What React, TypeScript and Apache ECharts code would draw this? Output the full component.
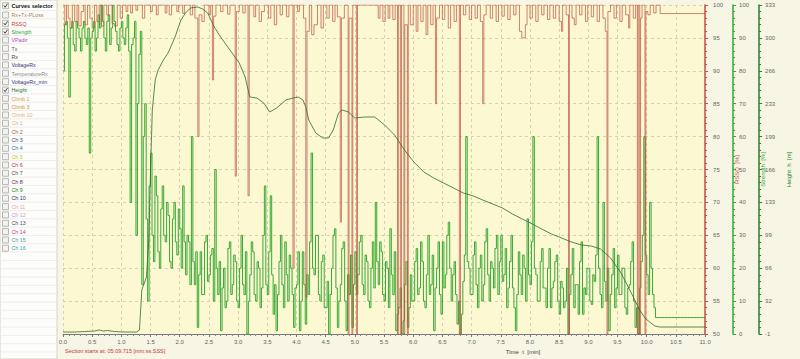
import React, { useEffect, useRef } from "react";
import * as echarts from "echarts";

// ---------- DATA ----------
const xTickLabels = ["0.0","0.5","1.0","1.5","2.0","2.5","3.0","3.5","4.0","4.5","5.0","5.5","6.0","6.5","7.0","7.5","8.0","8.5","9.0","9.5","10.0","10.5","11.0"];

// Strength [%], sampled every 0.025 min
const strengthStep = 0.025;
const strengthValues = [
  80,94,95,90,72,93,95,88,86,95,93,90,86,93,95,90,88,93,55,90,
  92,95,86,90,97,93,100,95,90,86,95,97,88,93,100,95,92,88,86,93,
  95,90,88,93,97,86,40,88,90,95,30,70,85,92,15,60,70,35,10,45,
  55,30,22,48,42,25,20,38,45,30,28,40,36,22,20,35,40,28,24,38,
  32,20,45,28,18,30,28,15,60,22,15,25,2,18,25,12,12,28,30,16,
  18,24,26,10,50,20,12,22,1,14,20,8,10,26,28,12,15,24,22,10,
  8,20,30,15,12,25,0,10,18,28,25,12,10,22,20,8,14,30,45,15,
  12,25,42,18,6,15,1,12,22,30,15,8,28,18,10,24,20,12,2,14,
  15,25,1,10,25,15,3,18,12,28,55,20,18,30,30,12,10,22,24,8,
  8,16,0,12,20,30,32,14,2,10,15,26,28,10,1,18,12,24,2,15,
  25,12,18,28,30,15,12,24,22,10,8,20,28,14,40,22,15,28,25,12,
  10,22,20,8,32,18,12,25,1,6,8,14,0,4,15,22,2,8,18,10,
  10,22,26,12,14,28,22,10,8,18,30,12,15,24,1,14,20,28,12,6,
  28,14,18,30,34,20,10,18,22,12,3,10,0,6,16,24,60,22,20,12,
  12,24,28,15,8,20,24,10,15,28,32,18,10,22,20,14,26,30,12,22,
  30,16,18,26,8,14,22,30,14,8,1,12,25,18,12,24,20,10,35,18,
  15,28,60,20,18,10,10,22,26,14,14,8,20,26,8,14,16,22,24,10,
  6,16,14,8,10,20,0,12,18,26,8,15,15,6,22,28,6,14,12,20,
  20,10,9,18,16,24,60,20,12,8,40,16,10,20,1,12,18,26,8,14,
  24,12,12,20,20,8,6,14,15,22,28,10,2,8,0,14,22,30,60,24,
  18,12,40,20,12,8,5,5,5,5,5,5,5,5,5,5,5,5,5,5,
  5,5,5,5,5,5,5,5,5,5,5,5,5,5,5,5,5,5,5,5,
  5
];

// RSSQ [%] change points: [time min, value]
const rssqSteps: [number, number][] = [
  [0.00,100],[0.03,97],[0.06,100],[0.09,98],[0.12,96.5],[0.16,100],[0.20,97.5],[0.24,100],[0.27,96.8],[0.31,99],
  [0.35,100],[0.38,97],[0.42,100],[0.46,98],[0.50,96.5],[0.54,100],[0.58,97.5],[0.62,100],[0.66,96.8],[0.70,100],
  [0.75,98.5],[0.78,100],[0.84,97.2],[0.88,96.8],[0.93,100],[0.98,98],[1.02,100],[1.08,99],[1.11,100],[1.16,98.8],
  [1.19,100],[1.25,99.2],[1.28,100],[1.36,98],[1.40,100],[1.50,99],[1.53,100],[1.60,98.5],[1.63,100],[1.75,98.8],
  [1.78,100],[1.82,98.5],[1.86,100],[1.95,99],[1.98,100],[2.05,98.7],[2.08,100],[2.18,98.5],[2.22,100],
  [2.26,98],[2.31,80],[2.33,98.5],[2.38,97.5],[2.42,100],[2.50,98.5],[2.53,100],[2.56,88.6],[2.58,98.3],[2.62,100],
  [2.70,99],[2.74,100],[2.82,98.6],[2.86,100],[2.95,74],[2.97,99],[3.02,100],[3.08,98.8],[3.12,100],[3.17,71],
  [3.19,100],[3.27,98.2],[3.30,100],[3.36,97.5],[3.40,99],[3.45,100],[3.52,98],[3.56,100],[3.62,97],[3.66,100],
  [3.72,98.5],[3.76,100],[3.83,98.2],[3.87,100],[3.94,60],[3.96,100],[4.02,99],[4.05,100],[4.12,98],[4.16,55.6],
  [4.18,96],[4.22,100],[4.26,95.5],[4.30,97],[4.36,100],[4.42,96.5],[4.46,100],[4.52,98],[4.56,100],[4.62,97.5],
  [4.66,100],[4.70,98.2],[4.75,67],[4.77,98],[4.82,100],[4.885,50],[4.90,98],[4.95,50],[4.965,100],[5.03,50],
  [5.045,100],[5.40,98],[5.43,100],[5.48,97.5],[5.52,100],[5.57,98],[5.60,100],[5.65,97.8],[5.69,100],[5.73,50],
  [5.745,100],[5.78,50],[5.80,100],[5.84,50],[5.855,97],[5.90,50],[5.915,100],[5.95,97],[6.00,100],[6.05,96],
  [6.08,100],[6.13,97.5],[6.17,100],[6.22,95.5],[6.25,100],[6.30,97],[6.34,100],[6.38,85],[6.40,98],[6.45,100],
  [6.50,97.8],[6.54,100],[6.60,96.5],[6.64,100],[6.70,97.5],[6.74,100],[6.79,50],[6.81,100],[6.86,98.5],[6.90,100],
  [6.96,97.8],[7.00,100],[7.06,98],[7.10,100],[7.15,97.5],[7.19,85],[7.21,98.5],[7.25,100],[7.32,98],[7.36,100],
  [7.42,97.5],[7.46,100],[7.52,98.3],[7.56,100],[7.62,97.8],[7.66,100],[7.72,98.5],[7.76,100],[7.82,96],[7.86,95],
  [7.92,97],[7.95,100],[8.00,98],[8.04,100],[8.10,97.5],[8.14,100],[8.20,98.5],[8.24,100],[8.30,97.8],[8.34,100],
  [8.40,98],[8.44,100],[8.50,97.5],[8.54,96],[8.56,100],[8.62,98.5],[8.66,50],[8.675,100],[8.72,98],[8.76,97],
  [8.79,100],[8.85,98.5],[8.89,100],[8.95,97.5],[8.99,100],[9.05,98.2],[9.09,100],[9.15,97.5],[9.19,100],[9.25,98],
  [9.29,96],[9.32,50],[9.335,99],[9.38,100],[9.44,98],[9.48,100],[9.54,97.5],[9.58,100],[9.64,98.5],[9.69,96.5],
  [9.71,100],[9.77,98],[9.81,100],[9.84,50],[9.855,100],[9.88,50],[9.895,98],[9.92,100],[9.97,50],[9.985,99],
  [10.02,98.5],[10.06,100],[10.12,98.8],[10.16,100],[10.23,98.7],[11.0,98.7]
];

// Height [m]: [time min, height]
const heightPoints: [number, number][] = [
  [0,1.0],[0.20,1.0],[0.37,1.5],[0.54,2.0],[0.62,3.1],[0.69,2.0],[0.76,2.6],[0.88,1.5],[1.04,1.0],[1.26,1.0],
  [1.31,3.1],[1.35,43.7],[1.40,51.8],[1.43,56.9],[1.47,94.4],[1.50,165.5],[1.53,226.4],[1.58,256.9],[1.63,267.0],[1.72,277.2],
  [1.80,284.3],[1.92,300.5],[2.02,317.8],[2.11,325.9],[2.19,330.0],[2.31,331.0],[2.39,329.0],[2.48,324.9],[2.59,310.7],[2.70,300.5],
  [2.86,287.3],[3.02,274.1],[3.12,259.9],[3.20,239.6],[3.32,238.6],[3.44,233.5],[3.54,224.4],[3.66,228.4],[3.82,236.6],[3.94,238.6],
  [4.03,239.6],[4.11,236.6],[4.16,229.4],[4.21,216.2],[4.33,203.1],[4.45,198.0],[4.55,198.0],[4.63,206.1],[4.72,223.4],[4.78,226.4],
  [4.89,224.4],[5.00,218.3],[5.17,219.3],[5.34,219.3],[5.51,211.2],[5.68,201.0],[5.85,185.8],[6.01,173.6],[6.18,163.5],[6.35,157.4],
  [6.52,152.3],[6.69,147.2],[6.86,142.1],[7.03,139.1],[7.19,135.0],[7.36,131.0],[7.53,126.9],[7.70,120.8],[7.87,115.7],[8.04,110.7],
  [8.20,105.6],[8.37,100.5],[8.54,96.5],[8.71,92.4],[8.88,89.4],[9.05,88.3],[9.21,85.3],[9.38,76.2],[9.55,61.9],[9.71,43.7],
  [9.88,23.4],[9.97,15.2],[10.05,11.2],[10.14,7.1],[10.22,6.1],[11.0,6.1]
];

const curveNames = ["Rx+Tx-PLoss","RSSQ","Strength","VPadir","Tx","Rx","VoltageRx","TemperatureRx","VoltageRx_min","Height","Climb 1","Climb 3","Climb 10","Ch 1","Ch 2","Ch 3","Ch 4","Ch 5","Ch 6","Ch 7","Ch 8","Ch 9","Ch 10","Ch 11","Ch 12","Ch 13","Ch 14","Ch 15","Ch 16"];
const curveColors = ["#b07a52","#d03a3a","#2f9e2f","#b040c0","#555555","#444444","#303080","#8a8a8a","#303080","#2a6a2a","#d4a050","#d09040","#d8b488","#d8b0a0","#a06040","#404080","#3070b0","#b8cc20","#b04040","#505050","#503050","#208020","#203060","#f0a0a0","#c0a0d0","#405060","#c04080","#40a0c0","#30a0b0"];
const curveChecked = [false,true,true,false,false,false,false,false,false,true,false,false,false,false,false,false,false,false,false,false,false,false,false,false,false,false,false,false,false];

// ---------- CHART ----------
const FONT = '"Liberation Sans", Arial, sans-serif';

function buildPanel() {
  const g: any[] = [];
  g.push({ type: "rect", silent: true, shape: { x: 0, y: 0, width: 57, height: 359 }, style: { fill: "#fdfdfb", stroke: "#d6d2bc", lineWidth: 1 } });
  for (let y = 10.5; y < 359; y += 8.33) {
    g.push({ type: "line", silent: true, shape: { x1: 0.5, y1: y, x2: 56.5, y2: y }, style: { stroke: "#efeee8", lineWidth: 1 } });
  }
  const box = (cy: number, checked: boolean) => {
    g.push({ type: "rect", silent: true, shape: { x: 2.5, y: cy - 3, width: 6, height: 6 }, style: { fill: "#f2f2f0", stroke: "#a8a8a8", lineWidth: 0.8 } });
    if (checked) {
      g.push({ type: "polyline", silent: true, shape: { points: [[3.8, cy - 0.2], [5.1, cy + 1.6], [7.5, cy - 2]] }, style: { stroke: "#333", lineWidth: 0.9, fill: null } });
    }
  };
  box(5.7, true);
  g.push({ type: "text", silent: true, style: { text: "Curves selector", x: 11.5, y: 5.9, fill: "#111", fontSize: 5.5, fontWeight: "bold", fontFamily: FONT, verticalAlign: "middle", align: "left" } });
  curveNames.forEach((name, k) => {
    const cy = 15 + 8.33 * k;
    box(cy, curveChecked[k]);
    g.push({ type: "text", silent: true, style: { text: name, x: 11.5, y: cy + 0.2, fill: curveColors[k], fontSize: 5.3, fontFamily: FONT, verticalAlign: "middle", align: "left" } });
  });
  g.push({ type: "text", silent: true, style: { text: "Section starts at: 05:09.715 [mm:ss.SSS]", x: 65, y: 351, fill: "#c03a3a", fontSize: 5.5, fontFamily: FONT, verticalAlign: "middle", align: "left" } });
  g.push({ type: "text", silent: true, style: { text: "Time  t  [min]", x: 523, y: 351.5, fill: "#444", fontSize: 6, fontFamily: FONT, verticalAlign: "middle", align: "center" } });
  return g;
}

function rightAxis(opts: any) {
  const c = opts.color;
  return {
    type: "value",
    position: "right",
    offset: opts.offset,
    min: opts.min,
    max: opts.max,
    interval: opts.interval,
    axisLine: { show: true, onZero: false, lineStyle: { color: c, width: 1.5 } },
    axisTick: { show: true, length: 3, lineStyle: { color: c } },
    minorTick: { show: true, splitNumber: 5, length: 2, lineStyle: { color: c } },
    axisLabel: { color: "#666", fontSize: 6, fontFamily: FONT, margin: opts.margin, formatter: opts.formatter },
    splitLine: { show: opts.split, lineStyle: { color: "#d8d2b2", type: [3, 3], width: 1 } },
    minorSplitLine: { show: false },
    name: opts.name,
    nameLocation: "middle",
    nameRotate: 90,
    nameGap: opts.nameGap,
    nameTextStyle: { color: c, fontSize: 6, fontFamily: FONT },
  };
}

function buildOption() {
  const strengthData = strengthValues.map((v, i) => [Number((i * strengthStep).toFixed(3)), v]);
  return {
    animation: false,
    backgroundColor: "#f7f5e4",
    textStyle: { fontFamily: FONT },
    grid: { left: 63, right: 84, top: 5, bottom: 25, show: true, backgroundColor: "#fcf8d2", borderWidth: 0 },
    xAxis: {
      type: "value",
      min: 0,
      max: 11,
      interval: 0.5,
      axisLine: { show: true, onZero: false, lineStyle: { color: "#777", width: 1 } },
      axisTick: { show: true, length: 3, lineStyle: { color: "#777" } },
      minorTick: { show: true, splitNumber: 5, length: 2, lineStyle: { color: "#888" } },
      axisLabel: { color: "#666", fontSize: 6, fontFamily: FONT, margin: 5, formatter: (v: number) => xTickLabels[Math.round(v * 2)] ?? v.toFixed(1) },
      splitLine: { show: true, lineStyle: { color: "#d8d2b2", type: [3, 3], width: 1 } },
    },
    yAxis: [
      rightAxis({ color: "#c4504a", offset: 0, min: 50, max: 100, interval: 5, margin: 8, split: true, name: "RSSQ  [%]", nameGap: 24 }),
      rightAxis({ color: "#3aa63a", offset: 28, min: 0, max: 100, interval: 10, margin: 6, split: false, name: "Strength  [%]", nameGap: 22 }),
      rightAxis({ color: "#2e7d32", offset: 54, min: -1, max: 333, interval: 33.4, margin: 6, split: false, name: "Height  h  [m]", nameGap: 23, formatter: (v: number) => String(Math.round(v)) }),
    ],
    series: [
      { name: "Strength", type: "line", yAxisIndex: 1, step: "end", symbol: "none", data: strengthData, lineStyle: { color: "#22a022", width: 0.9 }, silent: true },
      { name: "RSSQ", type: "line", yAxisIndex: 0, step: "end", symbol: "none", data: rssqSteps, lineStyle: { color: "rgba(190,85,70,0.8)", width: 0.9 }, silent: true },
      { name: "Height", type: "line", yAxisIndex: 2, symbol: "none", data: heightPoints, lineStyle: { color: "#2e6b2e", width: 0.8 }, silent: true },
    ],
    graphic: buildPanel(),
  };
}

export default function App() {
  const ref = useRef<HTMLDivElement>(null);
  useEffect(() => {
    if (!ref.current) return;
    const chart = echarts.init(ref.current, null, { renderer: "svg" });
    chart.setOption(buildOption() as any);
    return () => chart.dispose();
  }, []);
  return <div ref={ref} style={{ position: "fixed", left: 0, top: 0, width: 800, height: 359 }} />;
}
